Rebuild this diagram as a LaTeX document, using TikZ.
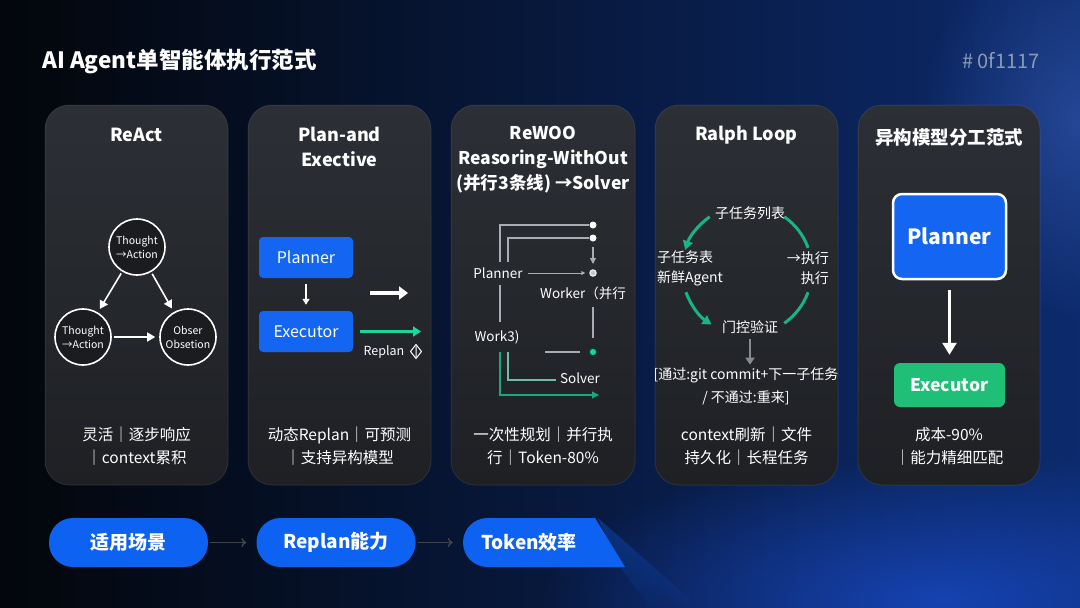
\documentclass[tikz,border=0pt]{standalone}
\usepackage{fontspec}
\setmainfont{Noto Sans CJK SC}
\usetikzlibrary{arrows.meta,shapes.geometric,calc,fadings}
\definecolor{bgL}{HTML}{03060B}
\definecolor{bgM}{HTML}{061330}
\definecolor{bgR}{HTML}{0C2A6C}
\definecolor{glow}{HTML}{1848C0}
\definecolor{cardT}{HTML}{2C2F35}
\definecolor{cardB}{HTML}{1E2024}
\definecolor{boxblue}{HTML}{1466F2}
\definecolor{pillblue}{HTML}{0E62F2}
\definecolor{exgreen}{HTML}{1FBF78}
\definecolor{tealc}{HTML}{1FD39B}
\definecolor{lgray}{HTML}{A9ADB3}
\definecolor{subg}{HTML}{8A9AB5}
\definecolor{circfill}{HTML}{1A1C20}
\definecolor{pillarrow}{HTML}{3E434C}
\newcommand{\myfs}[2]{\fontsize{#1}{#2}\selectfont}
\tikzfading[name=softglow, inner color=transparent!15, outer color=transparent!100]
\tikzfading[name=streakfade, top color=transparent!40, bottom color=transparent!100]
\begin{document}
\begin{tikzpicture}[x=1pt,y=-1pt,
  cardbox/.style={rounded corners=24pt, top color=cardT, bottom color=cardB, draw=white, draw opacity=0.08, line width=1pt},
  ttl/.style={text=white, font=\myfs{18}{24.5}\bfseries, align=center, inner sep=0pt},
  body/.style={text=white, font=\myfs{15.5}{23}, align=center, inner sep=0pt},
  lbl/.style={text=white, font=\myfs{14}{20}, inner sep=0pt},
  lbls/.style={text=white, font=\myfs{13.5}{20}, inner sep=0pt},
  circ/.style={circle, draw=white, line width=1.6pt, fill=circfill, minimum size=56pt, inner sep=0pt, align=center, text=white, font=\myfs{10.5}{14}},
  wa/.style={draw=white, line width=1.6pt, -{Triangle[length=8pt,width=9pt]}, shorten >=4pt, shorten <=2pt},
  bbox/.style={rectangle, rounded corners=4pt, fill=boxblue, minimum width=94pt, minimum height=41pt, text=white, font=\myfs{16}{18}, inner sep=0pt},
  rl/.style={draw=lgray, line width=1.2pt},
  wdot/.style={circle, fill=white, minimum size=7pt, inner sep=0pt},
  sdot/.style={circle, fill=lgray!70, draw=lgray!30, line width=1.5pt, minimum size=6pt, inner sep=0pt},
  tdot/.style={circle, fill=tealc, draw=tealc!30!black, line width=1.5pt, minimum size=8pt, inner sep=0pt},
  loop/.style={draw=tealc!85!black, line width=3pt},
  pill/.style={rectangle, rounded corners=24pt, fill=pillblue, minimum width=159pt, minimum height=49pt, text=white, font=\myfs{19}{22}\bfseries, inner sep=0pt},
  parr/.style={draw=pillarrow, line width=1.5pt, -{To[length=5pt,width=9pt]}}
]
\useasboundingbox (0,0) rectangle (1080,608);
% background
\shade[left color=bgL, right color=bgR] (0,0) rectangle (1080,608);
\fill[glow, path fading=softglow] (940,600) ellipse [x radius=400pt, y radius=150pt];
\fill[glow!80!white, path fading=softglow, opacity=0.5] (1080,120) ellipse [x radius=160pt, y radius=200pt];

% title
\node[anchor=west, text=white, font=\myfs{22.5}{26}\bfseries, inner sep=0pt] (title) at (42,61) {AI Agent单智能体执行范式};
\node[anchor=east, text=subg, font=\myfs{20}{24}, inner sep=0pt] (hex) at (1040,61) {\# 0f1117};

% cards
\path[cardbox] (45,105) rectangle (228,485);
\path[cardbox] (248,105) rectangle (431,485);
\path[cardbox] (451,105) rectangle (635,485);
\path[cardbox] (655,105) rectangle (838,485);
\path[cardbox] (858,105) rectangle (1040,485);

% ---- Card 1: ReAct
\node[ttl] (t1) at (136.5,135) {ReAct};
\node[circ] (c1) at (137,247) {Thought\\→Action};
\node[circ] (c2) at (83,337) {Thought\\→Action};
\node[circ] (c3) at (188,337) {Obser\\Obsetion};
\draw[wa] (c1) -- (c2);
\draw[wa] (c1) -- (c3);
\draw[wa] (c2) -- (c3);
\node[body] (b1) at (136.5,446.5) {灵活｜逐步响应\\｜context累积};

% ---- Card 2: Plan-and-Execute
\node[ttl] (t2) at (339.5,147) {Plan-and\\Exective};
\node[bbox] (p2) at (306,257.5) {Planner};
\node[bbox] (e2) at (306,331.5) {Executor};
\draw[draw=white, line width=1.5pt, -{Triangle[length=6pt,width=7pt]}, shorten <=6pt, shorten >=6pt] (p2) -- (e2);
\coordinate (wa1) at (370,293);
\coordinate (wa2) at (408,293);
\draw[draw=white, line width=4pt, -{Triangle[length=9pt,width=13pt]}] (wa1) -- (wa2);
\coordinate (ga) at (421,331.5);
\draw[draw=tealc, line width=2.2pt, -{Triangle[length=8pt,width=10pt]}, shorten <=7pt] (e2.east) -- (ga);
\node[text=white, font=\myfs{12.5}{14}, inner sep=0pt] (rp) at (384,352) {Replan};
\draw[white, line width=1pt, line join=round] (416,344.5) -- (421.5,351.5) -- (416,358.5) -- (410.5,351.5) -- cycle (416,346.5) -- (416,356.5);
\node[body] (b2) at (339.5,446.5) {动态Replan｜可预测\\｜支持异构模型};

% ---- Card 3: ReWOO
\node[ttl, font=\myfs{17.5}{25}\bfseries] (t3) at (543,160) {ReWOO\\Reasoring-WithOut\\(并行3条线) →Solver};
\coordinate (r1a) at (500,262);
\coordinate (r1b) at (500,225);
\node[wdot] (d1) at (593,225) {};
\draw[rl] (r1a) -- (r1b) -- (d1);
\coordinate (r2a) at (508,262);
\coordinate (r2b) at (508,238);
\node[wdot] (d2) at (593,238) {};
\draw[rl] (r2a) -- (r2b) -- (d2);
\coordinate (r3) at (593,264);
\draw[rl, -{Triangle[length=6pt,width=6pt]}, shorten <=5pt] (d2) -- (r3);
\node[lbls] (pl) at (498,273) {Planner};
\node[sdot] (d3) at (593,273) {};
\draw[rl, line width=1pt, -{Triangle[length=4pt,width=4pt]}, shorten <=5pt, shorten >=4pt] (pl) -- (d3);
\node[lbls, anchor=center] (wk) at (583,293.5) {Worker（并行};
\node[tdot] (d4) at (593,352) {};
\draw[rl, shorten <=7pt, shorten >=9pt] (wk.south -| d4) -- (d4);
\coordinate (h1) at (545,352);
\draw[rl, shorten >=8pt] (h1) -- (d4);
\coordinate (r1c) at (500,285);
\coordinate (r1d) at (500,322);
\draw[rl] (r1c) -- (r1d);
\node[lbls] (w3) at (497,337) {Work3)};
\coordinate (g1) at (500,352);
\coordinate (g2) at (500,395);
\coordinate (g3) at (599,395);
\draw[draw=tealc!80!black, line width=1.3pt, -{Triangle[length=7pt,width=7pt]}] (g1) -- (g2) -- (g3);
\coordinate (g4) at (508,352);
\coordinate (g5) at (508,380);
\node[lbls] (sv) at (580,378) {Solver};
\draw[draw=tealc!45!lgray, line width=1.2pt, shorten >=4pt] (g4) -- (g5) -- (g5 -| sv.west);
\node[body] (b3) at (543,446.5) {一次性规划｜并行执\\行｜Token-80\%};

% ---- Card 4: Ralph Loop
\node[ttl] (t4) at (746.5,135) {Ralph Loop};
\node[lbl] (lst) at (750,213) {子任务列表};
\node[lbl, align=left, anchor=west] (lft) at (657,268) {子任务表\\新鲜Agent};
\node[lbl, align=right, anchor=east] (rgt) at (829,268) {→执行\\执行};
\node[lbl] (gate) at (750,327) {门控验证};
\coordinate (lc) at (747,270);
\coordinate (a1) at ($(lc)+({65*cos(125)},{-65*sin(125)})$);
\coordinate (a2) at ($(lc)+({65*cos(55)},{-65*sin(55)})$);
\coordinate (a3) at ($(lc)+({65*cos(200)},{-65*sin(200)})$);
\coordinate (a4) at ($(lc)+({65*cos(305)},{-65*sin(305)})$);
\draw[loop, -{Triangle[length=9pt,width=10pt]}] (a1) arc[start angle=-125, end angle=-162, radius=65];
\draw[loop] (a2) arc[start angle=-55, end angle=-20, radius=65];
\draw[loop, -{Triangle[length=9pt,width=10pt]}] (a3) arc[start angle=-200, end angle=-237, radius=65];
\draw[loop] (a4) arc[start angle=-305, end angle=-340, radius=65];
\node[lbl, font=\myfs{14}{23}, align=center] (res) at (746,386.5) {[通过:git commit+下一子任务\\/ 不通过:重来]};
\draw[draw=lgray!80!black, line width=2.5pt, -{Triangle[length=7pt,width=9pt]}, shorten <=5pt, shorten >=3pt] (gate.south) -- (gate.south |- res.north);
\node[body] (b4) at (746.5,446.5) {context刷新｜文件\\持久化｜长程任务};

% ---- Card 5: heterogeneous
\node[ttl, font=\myfs{18.5}{24}\bfseries] (t5) at (949,137) {异构模型分工范式};
\node[rectangle, rounded corners=9pt, fill=boxblue, draw=white, line width=2.5pt, minimum width=113pt, minimum height=85pt, text=white, font=\myfs{21}{24}\bfseries, inner sep=0pt] (p5) at (949.5,236.5) {Planner};
\node[rectangle, rounded corners=6pt, fill=exgreen, minimum width=111pt, minimum height=44pt, text=white, font=\myfs{17.5}{20}\bfseries, inner sep=0pt] (e5) at (949.5,385) {Executor};
\draw[draw=white, line width=2.5pt, -{Triangle[length=12pt,width=14pt]}, shorten <=10pt, shorten >=8pt] (p5) -- (e5);
\node[body] (b5) at (949,446.5) {成本-90\%\\｜能力精细匹配};

% ---- bottom pills
\fill[pillblue, path fading=streakfade, opacity=0.6] (598,518) -- (700,608) -- (650,608) -- (620,567) -- cycle;
\fill[pillblue] (595,518) -- (625,567) -- (487.5,567) arc[start angle=90, end angle=270, radius=24.5] -- cycle;
\node[pill] (q1) at (128.5,542.5) {适用场景};
\node[pill] (q2) at (336,542.5) {Replan能力};
\node[text=white, font=\myfs{19}{22}\bfseries, inner sep=0pt, minimum width=132pt, minimum height=49pt] (q3) at (529,542.5) {Token效率};
\draw[parr, shorten <=2pt, shorten >=10pt] (q1) -- (q2);
\draw[parr, shorten <=2pt, shorten >=10pt] (q2) -- (q3);
\end{tikzpicture}
\end{document}
